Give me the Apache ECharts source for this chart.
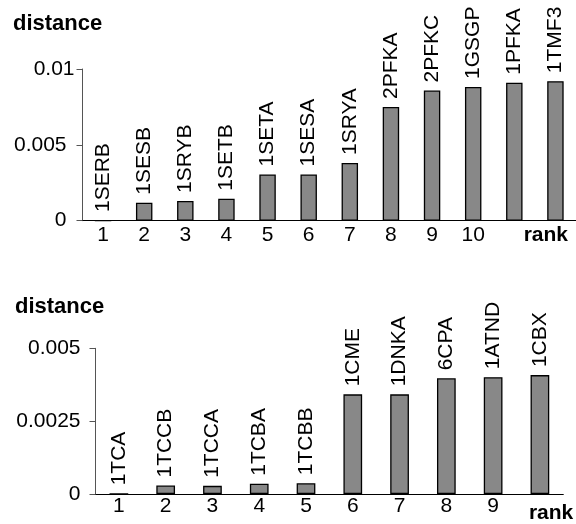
<!DOCTYPE html>
<html>
<head>
<meta charset="utf-8">
<script src="https://cdn.jsdelivr.net/npm/echarts@6/dist/echarts.min.js"></script>
<style>
  html, body { margin: 0; padding: 0; background: #fff; }
  #chart { width: 576px; height: 524px; }
</style>
</head>
<body>
<div id="chart"></div>
<script>
// Upper panel: structures ranked by distance
const topRanks = ['1', '2', '3', '4', '5', '6', '7', '8', '9', '10', '', ''];
const topNames = ['1SERB', '1SESB', '1SRYB', '1SETB', '1SETA', '1SESA', '1SRYA', '2PFKA', '2PFKC', '1GSGP', '1PFKA', '1TMF3'];
const topValues = [0, 0.00118, 0.0013, 0.00145, 0.00305, 0.00305, 0.0038, 0.0075, 0.00858, 0.00882, 0.0091, 0.0092];
const topTicks = [0, 0.005, 0.01];

// Lower panel
const botRanks = ['1', '2', '3', '4', '5', '6', '7', '8', '9', ''];
const botNames = ['1TCA', '1TCCB', '1TCCA', '1TCBA', '1TCBB', '1CME', '1DNKA', '6CPA', '1ATND', '1CBX'];
const botValues = [0, 0.00029, 0.00028, 0.00035, 0.00037, 0.00342, 0.00342, 0.00397, 0.00401, 0.00408];
const botTicks = [0, 0.0025, 0.005];

const FONT = "'Liberation Sans', Arial, sans-serif";
const FS = 21;
const TITLE_FS = 22;

function barSeries(xi, yi, values, names) {
  return {
    type: 'bar',
    xAxisIndex: xi,
    yAxisIndex: yi,
    barWidth: '40%',
    data: values,
    itemStyle: { color: '#888888', borderColor: '#000', borderWidth: 1.3 },
    label: {
      show: true,
      position: 'top',
      distance: 8,
      rotate: 90,
      align: 'left',
      verticalAlign: 'middle',
      fontFamily: FONT,
      fontSize: FS,
      color: '#000',
      formatter: p => names[p.dataIndex]
    },
    silent: true,
    animation: false
  };
}

function valueAxis(grid, ticks, margin, label) {
  return {
    type: 'value',
    gridIndex: grid,
    min: ticks[0],
    max: ticks[ticks.length - 1],
    interval: ticks[1] - ticks[0],
    splitLine: { show: false },
    axisLine: { show: true, lineStyle: { color: '#555', width: 1 } },
    axisTick: { show: true, inside: false, length: 6, lineStyle: { color: '#555' } },
    axisLabel: Object.assign({ margin: margin, fontFamily: FONT, fontSize: FS, color: '#000' }, label || {})
  };
}

// the top label of the upper value axis sits a little closer to the axis
const topMax = topTicks[topTicks.length - 1];
const topYLabel = {
  formatter: v => (v === topMax ? '{a|' + v + '}' : '{b|' + v + '}'),
  rich: {
    a: { fontFamily: FONT, fontSize: FS, color: '#000' },
    b: { fontFamily: FONT, fontSize: FS, color: '#000', padding: [0, 8, 0, 0] }
  }
};

const chart = echarts.init(document.getElementById('chart'), null, { renderer: 'canvas' });
chart.setOption({
  animation: false,
  backgroundColor: '#fff',
  title: [
    { text: 'distance', left: 13, top: 13, padding: 0,
      textStyle: { fontFamily: FONT, fontSize: TITLE_FS, fontWeight: 'bold', color: '#000' } },
    { text: 'distance', left: 15, top: 296, padding: 0,
      textStyle: { fontFamily: FONT, fontSize: TITLE_FS, fontWeight: 'bold', color: '#000' } }
  ],
  grid: [
    { left: 82.5, top: 69, width: 495.3, height: 151.7 },
    { left: 95.5, top: 348.3, width: 467.8, height: 150.7 }
  ],
  xAxis: [
    {
      type: 'category', gridIndex: 0, data: topRanks,
      axisLine: { lineStyle: { color: '#000', width: 1 } },
      axisTick: { inside: true, length: 7, lineStyle: { color: '#000' } },
      axisLabel: { margin: 4, interval: 0, fontFamily: FONT, fontSize: FS, color: '#000' },
      name: 'rank', nameLocation: 'end', nameGap: -8,
      nameTextStyle: { fontFamily: FONT, fontSize: FS, fontWeight: 'bold', color: '#000',
        align: 'right', verticalAlign: 'top', padding: [4, 0, 0, 0] }
    },
    {
      type: 'category', gridIndex: 1, data: botRanks,
      axisLine: { lineStyle: { color: '#000', width: 1 } },
      axisTick: { inside: true, length: 6, lineStyle: { color: '#000' } },
      axisLabel: { margin: 2, interval: 0, fontFamily: FONT, fontSize: FS, color: '#000' },
      name: 'rank', nameLocation: 'end', nameGap: 10,
      nameTextStyle: { fontFamily: FONT, fontSize: FS, fontWeight: 'bold', color: '#000',
        align: 'right', verticalAlign: 'top', padding: [9, 0, 0, 0] }
    },
    {
      // outer half of the crossing ticks on the lower panel
      type: 'category', gridIndex: 1, data: botRanks, position: 'bottom', offset: 0,
      axisLine: { show: false },
      axisTick: { inside: false, length: 6, lineStyle: { color: '#000' } },
      axisLabel: { show: false }
    }
  ],
  yAxis: [valueAxis(0, topTicks, 8, topYLabel), valueAxis(1, botTicks, 15)],
  series: [
    barSeries(0, 0, topValues, topNames),
    barSeries(1, 1, botValues, botNames)
  ]
});
</script>
</body>
</html>
